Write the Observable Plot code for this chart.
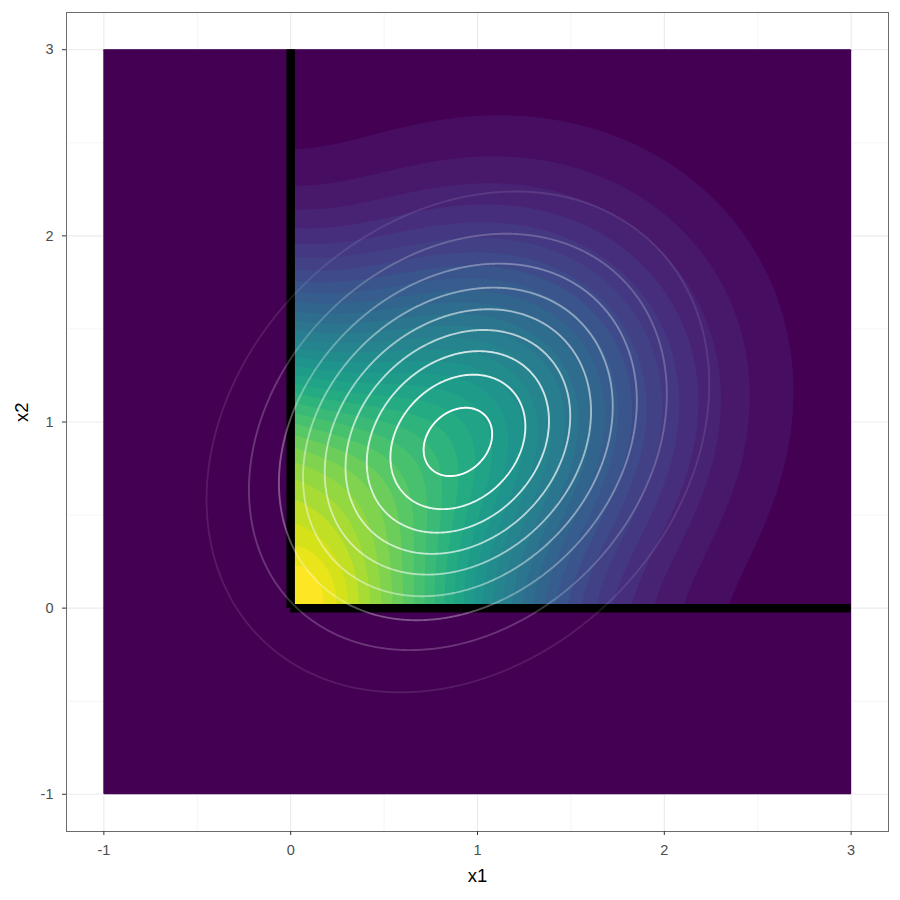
<!DOCTYPE html>
<html>
<head>
<meta charset="utf-8">
<script src="https://cdn.jsdelivr.net/npm/d3@7"></script>
<script src="https://cdn.jsdelivr.net/npm/@observablehq/plot@0.6"></script>
<style>
  body { margin: 0; background: #ffffff; }
  #chart { width: 900px; height: 900px; }
</style>
</head>
<body>
<div id="chart"></div>
<script>
// ---- axes ----
const xTicks = [-1, 0, 1, 2, 3];
const yTicks = [-1, 0, 1, 2, 3];
const minorTicks = [-0.5, 0.5, 1.5, 2.5];
const axisDomain = [-1.2, 3.2];
const gridExtent = [-1, 3];
const xTitle = "x1";
const yTitle = "x2";

// ---- filled surface (shape): corner peak, broad corner term, interior bump ----
const fillWeight = [0.12, 0.785, 0.5];
const fillMeanX  = [0.0, 0.0, 0.95];
const fillMeanY  = [0.0, 0.0, 1.0];
const fillP11    = [20.66, 1.65, 1.845];
const fillP12    = [0.0, 1.025, -0.195];
const fillP22    = [20.66, 0.8, 2.061];
const fillTaperY = [0.0, 0.045, 0.0];
const fillRegion = [0, 3];       // surface is non-zero only in the constrained quadrant
const fillBins = 32;

// ---- white contour lines: bivariate normal ----
const normMean = [0.895, 0.893];
const normSd = [0.635, 0.635];
const normRho = 0.23;
const contourLevels = [0.043, 0.086, 0.130, 0.173, 0.216, 0.259, 0.302, 0.345, 0.389];
const contourAlpha  = [0.1, 0.2125, 0.325, 0.4375, 0.55, 0.6625, 0.775, 0.8875, 1.0];

// ---- constraint boundaries ----
const boundaryV = [{x: 0, y1: 0, y2: 3}];
const boundaryH = [{y: 0, x1: 0, x2: 3}];

function fillValue(x, y) {
  if (x < fillRegion[0] || y < fillRegion[0] || x > fillRegion[1] || y > fillRegion[1]) return 0;
  let s = 0;
  for (let i = 0; i < fillWeight.length; i++) {
    const dx = x - fillMeanX[i], dy = y - fillMeanY[i];
    const q = fillP11[i] * dx * dx + 2 * fillP12[i] * dx * dy + fillP22[i] * dy * dy;
    s += fillWeight[i] * Math.exp(-0.5 * q - fillTaperY[i] * y * y * y * y);
  }
  return s;
}
function normPdf(x, y) {
  const [sx, sy] = normSd, r = normRho;
  const u = (x - normMean[0]) / sx, w = (y - normMean[1]) / sy;
  const c = 2 * Math.PI * sx * sy * Math.sqrt(1 - r * r);
  return Math.exp(-0.5 * (u * u - 2 * r * u * w + w * w) / (1 - r * r)) / c;
}

let vmax = 0;
for (let i = 0; i <= 300; i++) for (let j = 0; j <= 300; j++) {
  vmax = Math.max(vmax, fillValue(i / 100, j / 100));
}
const thresholds = d3.range(fillBins).map(i => i * vmax / fillBins);

const grey92 = "#ebebeb";
const fontFamily = "'Liberation Sans', Arial, Helvetica, sans-serif";

const chart = Plot.plot({
  width: 900,
  height: 900,
  marginLeft: 66,
  marginRight: 12,
  marginTop: 12,
  marginBottom: 69,
  style: {fontFamily, background: "#ffffff", color: "#333333"},
  x: {domain: axisDomain, axis: null},
  y: {domain: axisDomain, axis: null},
  color: {type: "linear", scheme: "viridis", domain: [0, thresholds[thresholds.length - 1]]},
  marks: [
    Plot.gridX(minorTicks, {stroke: grey92, strokeOpacity: 1, strokeWidth: 0.55}),
    Plot.gridY(minorTicks, {stroke: grey92, strokeOpacity: 1, strokeWidth: 0.55}),
    Plot.gridX(xTicks, {stroke: grey92, strokeOpacity: 1, strokeWidth: 1.1}),
    Plot.gridY(yTicks, {stroke: grey92, strokeOpacity: 1, strokeWidth: 1.1}),
    Plot.rect([gridExtent], {x1: d => d[0], x2: d => d[1], y1: d => d[0], y2: d => d[1], fill: d3.interpolateViridis(0)}),
    Plot.contour({
      value: fillValue,
      x1: gridExtent[0], x2: gridExtent[1], y1: gridExtent[0], y2: gridExtent[1],
      thresholds,
      fill: "value",
      stroke: "none",
      pixelSize: 1
    }),
    Plot.ruleX(boundaryV, {x: "x", y1: "y1", y2: "y2", stroke: "black", strokeWidth: 8.5}),
    Plot.ruleY(boundaryH, {y: "y", x1: "x1", x2: "x2", stroke: "black", strokeWidth: 8.5}),
    ...contourLevels.map((L, i) => Plot.contour({
      value: normPdf,
      x1: gridExtent[0], x2: gridExtent[1], y1: gridExtent[0], y2: gridExtent[1],
      thresholds: [L],
      fill: "none",
      stroke: "white",
      strokeOpacity: contourAlpha[i],
      strokeWidth: 1.9,
      pixelSize: 1
    })),
    Plot.frame({stroke: "#6b6b6b", strokeWidth: 1}),
    Plot.axisX(xTicks, {
      tickSize: 4, tickPadding: 9, stroke: "#333333", fill: "#4d4d4d",
      fontSize: 14.5, tickFormat: d => String(d), label: null
    }),
    Plot.axisY(yTicks, {
      tickSize: 4, tickPadding: 9, stroke: "#333333", fill: "#4d4d4d",
      fontSize: 14.5, tickFormat: d => String(d), label: null
    }),
    Plot.text([xTitle], {frameAnchor: "bottom", dy: 50, fontSize: 18.5, fill: "#000000", text: d => d}),
    Plot.text([yTitle], {frameAnchor: "left", dx: -44, rotate: -90, fontSize: 18.5, fill: "#000000", text: d => d})
  ]
});
document.getElementById("chart").appendChild(chart);
</script>
</body>
</html>
